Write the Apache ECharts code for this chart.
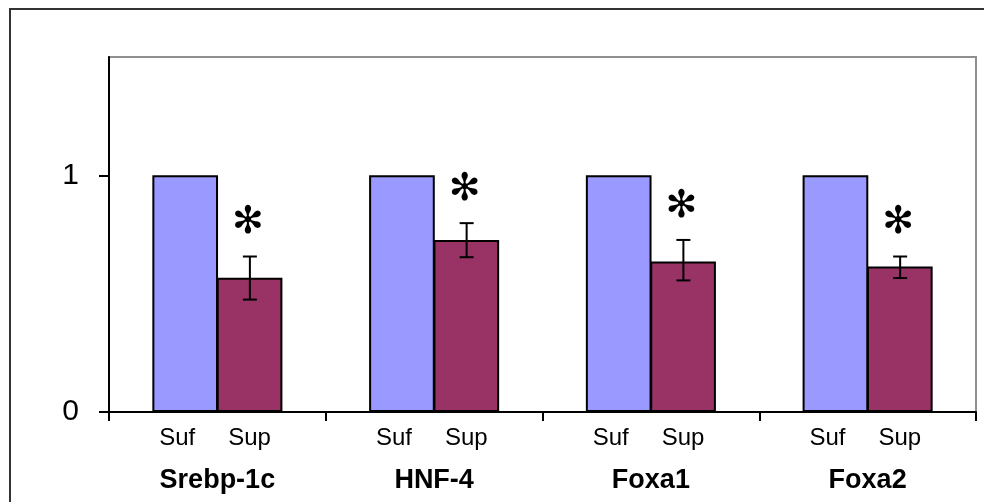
<!DOCTYPE html>
<html>
<head>
<meta charset="utf-8">
<script src="https://cdn.jsdelivr.net/npm/echarts@6/dist/echarts.min.js"></script>
<style>html,body{margin:0;padding:0;background:#fff;}#c{width:984px;height:502px;}</style>
</head>
<body>
<div id="c"></div>
<script>
const categories = ['Srebp-1c', 'HNF-4', 'Foxa1', 'Foxa2'];
const seriesNames = ['Suf', 'Sup'];
const sufValues = [1, 1, 1, 1];
const supValues = [0.567, 0.727, 0.636, 0.615];
const supErrLow = [0.475, 0.654, 0.556, 0.566];
const supErrHigh = [0.657, 0.798, 0.727, 0.657];
const significance = ['✻', '✻', '✻', '✻'];
const yTicks = [0, 1];

const chart = echarts.init(document.getElementById('c'));
const errData = categories.map((c, i) => [i, supErrLow[i], supErrHigh[i]]);

chart.setOption({
  animation: false,
  backgroundColor: '#fff',
  graphic: [{
    type: 'rect', shape: {x: 10, y: 9, width: 1000, height: 600},
    style: {fill: 'none', stroke: '#333', lineWidth: 2}, silent: true, z: -10
  }],
  grid: {left: 109, top: 57, right: 8, bottom: 90, show: true, borderColor: '#8f8f8f', borderWidth: 2, backgroundColor: 'transparent'},
  xAxis: {
    type: 'category', data: categories,
    axisLine: {lineStyle: {color: '#000', width: 2}},
    axisTick: {show: true, length: 9, lineStyle: {color: '#000', width: 2}},
    axisLabel: {margin: 55, fontSize: 27, fontWeight: 'bold', color: '#000', fontFamily: 'Liberation Sans, Arial, sans-serif'}
  },
  yAxis: {
    type: 'value', min: 0, max: 1.5, interval: 0.5,
    splitLine: {show: false},
    axisLine: {show: true, lineStyle: {color: '#000', width: 2}},
    axisTick: {show: true, length: 10, customValues: yTicks, lineStyle: {color: '#000', width: 2}},
    axisLabel: {margin: 30, fontSize: 30, color: '#000', customValues: yTicks, fontFamily: 'Liberation Sans, Arial, sans-serif'}
  },
  series: [
    {
      name: seriesNames[0], type: 'bar', data: sufValues, barGap: '-2%', barCategoryGap: '40%',
      itemStyle: {color: '#9999FF', borderColor: '#000', borderWidth: 2},
      label: {show: true, position: 'bottom', distance: 14, offset: [-8, 0], formatter: seriesNames[0], fontSize: 24, color: '#000', fontFamily: 'Liberation Sans, Arial, sans-serif'}
    },
    {
      name: seriesNames[1], type: 'bar', data: supValues,
      itemStyle: {color: '#993366', borderColor: '#000', borderWidth: 2},
      label: {show: true, position: 'bottom', distance: 14, formatter: seriesNames[1], fontSize: 24, color: '#000', fontFamily: 'Liberation Sans, Arial, sans-serif'}
    },
    {
      type: 'custom', data: errData, z: 10,
      renderItem: function (params, api) {
        const base = api.coord([api.value(0), 0]);
        const cw = api.size([1, 0])[0];
        const cx = base[0] + cw * 0.15;
        const yl = api.coord([api.value(0), api.value(1)])[1];
        const yh = api.coord([api.value(0), api.value(2)])[1];
        const hw = 7;
        const ls = {stroke: '#000', lineWidth: 2};
        return {
          type: 'group',
          children: [
            {type: 'line', shape: {x1: cx, y1: yl, x2: cx, y2: yh}, style: ls},
            {type: 'line', shape: {x1: cx - hw, y1: yh, x2: cx + hw, y2: yh}, style: ls},
            {type: 'line', shape: {x1: cx - hw, y1: yl, x2: cx + hw, y2: yl}, style: ls},
            {type: 'text', style: {text: significance[params.dataIndex], x: cx - 2, y: yh - 33, align: 'center', verticalAlign: 'middle', fontSize: 38, fontWeight: 'bold', fill: '#000', fontFamily: 'DejaVu Sans'}}
          ]
        };
      }
    }
  ]
});
</script>
</body>
</html>
